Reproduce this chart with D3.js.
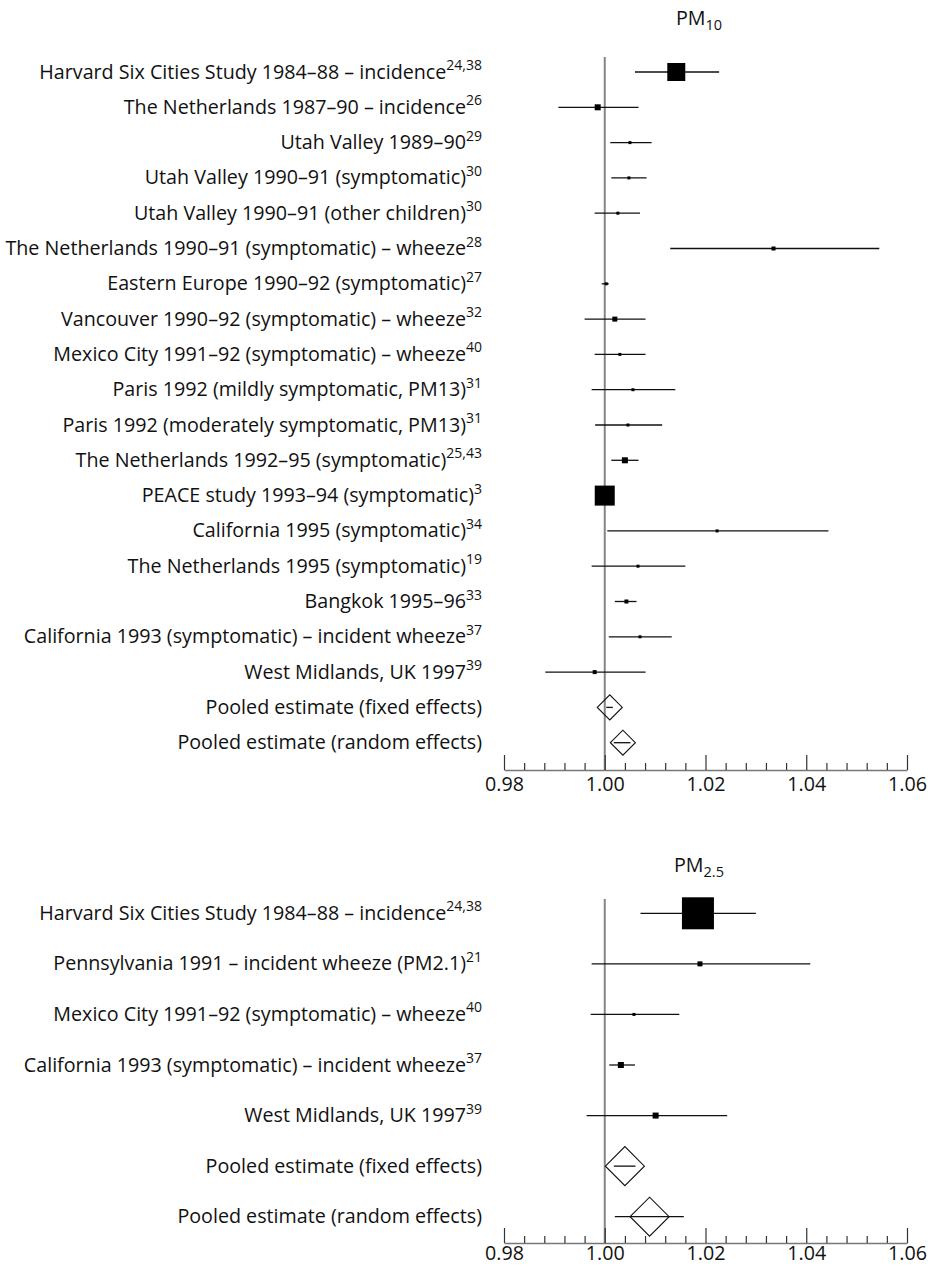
<!DOCTYPE html>
<meta charset="utf-8">
<title>PM10 / PM2.5 forest plot</title>
<style>
body { margin: 0; background: #fff; }
svg { display: block; }
.lab { font: 19.7px "Open Sans", sans-serif; fill: #111; }
.axis text { font: 19.7px "Open Sans", sans-serif; fill: #111; }
</style>
<svg></svg>
<script src="https://d3js.org/d3.v7.min.js"></script>
<script>
var width = 928, height = 1268;

// ---- PM10 studies
var pm10Labels = [
  "Harvard Six Cities Study 1984\u201388 \u2013 incidence",
  "The Netherlands 1987\u201390 \u2013 incidence",
  "Utah Valley 1989\u201390",
  "Utah Valley 1990\u201391 (symptomatic)",
  "Utah Valley 1990\u201391 (other children)",
  "The Netherlands 1990\u201391 (symptomatic) \u2013 wheeze",
  "Eastern Europe 1990\u201392 (symptomatic)",
  "Vancouver 1990\u201392 (symptomatic) \u2013 wheeze",
  "Mexico City 1991\u201392 (symptomatic) \u2013 wheeze",
  "Paris 1992 (mildly symptomatic, PM13)",
  "Paris 1992 (moderately symptomatic, PM13)",
  "The Netherlands 1992\u201395 (symptomatic)",
  "PEACE study 1993\u201394 (symptomatic)",
  "California 1995 (symptomatic)",
  "The Netherlands 1995 (symptomatic)",
  "Bangkok 1995\u201396",
  "California 1993 (symptomatic) \u2013 incident wheeze",
  "West Midlands, UK 1997"
];
var pm10Refs = ["24,38", "26", "29", "30", "30", "28", "27", "32", "40", "31", "31", "25,43", "3", "34", "19", "33", "37", "39"];
var pm10Est = [1.0142, 0.9986, 1.0050, 1.0048, 1.0026, 1.0335, 1.0003, 1.0020, 1.0030, 1.0056, 1.0046, 1.0040, 1.0000, 1.0223, 1.0066, 1.0043, 1.0070, 0.9980];
var pm10Lo  = [1.0060, 0.9908, 1.0011, 1.0013, 0.9980, 1.0130, 0.9994, 0.9960, 0.9980, 0.9974, 0.9981, 1.0013, 0.9985, 1.0005, 0.9974, 1.0020, 1.0008, 0.9882];
var pm10Hi  = [1.0227, 1.0067, 1.0093, 1.0083, 1.0070, 1.0545, 1.0008, 1.0081, 1.0081, 1.0140, 1.0114, 1.0067, 1.0015, 1.0444, 1.0160, 1.0063, 1.0133, 1.0081];
var pm10Weight = [81, 9, 2.25, 2.25, 2.25, 4, 2.25, 6.25, 2.25, 2.25, 2.25, 9, 100, 2.25, 2.25, 4, 2.25, 4];

// ---- PM2.5 studies
var pm25Labels = [
  "Harvard Six Cities Study 1984\u201388 \u2013 incidence",
  "Pennsylvania 1991 \u2013 incident wheeze (PM2.1)",
  "Mexico City 1991\u201392 (symptomatic) \u2013 wheeze",
  "California 1993 (symptomatic) \u2013 incident wheeze",
  "West Midlands, UK 1997"
];
var pm25Refs = ["24,38", "21", "40", "37", "39"];
var pm25Est = [1.0185, 1.0189, 1.0058, 1.0032, 1.0101];
var pm25Lo  = [1.0071, 0.9974, 0.9972, 1.0009, 0.9964];
var pm25Hi  = [1.0300, 1.0408, 1.0148, 1.0060, 1.0243];
var pm25Weight = [256, 6.25, 2.25, 9, 9];

// ---- pooled estimates
var pooledLabels = ["Pooled estimate (fixed effects)", "Pooled estimate (random effects)"];
var pm10PoolEst = [1.0010, 1.0036];
var pm10PoolLo  = [1.0003, 1.0018];
var pm10PoolHi  = [1.0016, 1.0051];
var pm25PoolEst = [1.0040, 1.0089];
var pm25PoolLo  = [1.0018, 1.0020];
var pm25PoolHi  = [1.0061, 1.0157];

// ---- axis
var xDomain = [0.98, 1.06];
var majorTicks = [0.98, 1.00, 1.02, 1.04, 1.06];
var minorTicks = d3.range(0, 21).filter(i => i % 5 != 0).map(i => 0.98 + i * 0.004);

var svg = d3.select("svg").attr("width", width).attr("height", height);

var x = d3.scaleLinear().domain(xDomain).range([504, 907]);
var box = d3.scaleSqrt().domain([0, 100]).range([0, 20]);
var labelX = 482;

function panel(o) {
  var rows = o.labels.map((l, i) => ({label: l, ref: o.refs[i], est: o.est[i], lo: o.lo[i], hi: o.hi[i], w: o.weight[i], pooled: false}))
    .concat(pooledLabels.map((l, i) => ({label: l, ref: null, est: o.poolEst[i], lo: o.poolLo[i], hi: o.poolHi[i], pooled: true})));

  var y = d3.scalePoint().domain(d3.range(rows.length)).range([o.y0, o.y1]);

  var g = svg.append("g");

  // title
  var t = g.append("text").attr("class", "lab")
    .attr("x", 699).attr("y", o.titleY)
    .attr("text-anchor", "middle");
  t.append("tspan").text("PM");
  t.append("tspan").attr("dy", 5).attr("font-size", 14.5).text(o.sub);

  // reference line at 1
  g.append("line")
    .attr("x1", x(1)).attr("x2", x(1))
    .attr("y1", o.lineTop).attr("y2", o.axisY)
    .attr("stroke", "#858585").attr("stroke-width", 2);

  // axis
  var ax = g.append("g").attr("class", "axis")
    .attr("transform", "translate(0," + o.axisY + ")")
    .call(d3.axisBottom(x).tickValues(majorTicks).tickFormat(d3.format(".2f"))
      .tickSizeInner(-15).tickSizeOuter(0));
  ax.select(".domain").attr("stroke", "#777").attr("stroke-width", 1.5);
  ax.selectAll(".tick line").attr("stroke", "#333").attr("stroke-width", 1.2);
  ax.selectAll(".tick text").attr("y", o.tickPad).attr("dy", "0.71em");

  var mn = g.append("g")
    .attr("transform", "translate(0," + o.axisY + ")")
    .call(d3.axisBottom(x).tickValues(minorTicks).tickFormat("").tickSizeInner(-7).tickSizeOuter(0));
  mn.select(".domain").remove();
  mn.selectAll(".tick line").attr("stroke", "#333").attr("stroke-width", 1.2);

  // labels
  var lab = g.selectAll(".rowlab").data(rows).join("text")
    .attr("class", "lab")
    .attr("x", labelX)
    .attr("y", (d, i) => y(i) + 6.5)
    .attr("text-anchor", "end");
  lab.append("tspan").text(d => d.label);
  lab.filter(d => d.ref).append("tspan")
    .attr("dy", -8.5).attr("font-size", 14).text(d => d.ref);

  // confidence intervals
  g.selectAll(".ci").data(rows).join("line")
    .attr("x1", d => x(d.lo)).attr("x2", d => x(d.hi))
    .attr("y1", (d, i) => y(i)).attr("y2", (d, i) => y(i))
    .attr("stroke", "#111").attr("stroke-width", 1.3);

  // study boxes
  g.selectAll(".box").data(rows.filter(d => !d.pooled)).join("rect")
    .attr("x", d => x(d.est) - box(d.w) / 2)
    .attr("y", d => y(rows.indexOf(d)) - box(d.w) / 2)
    .attr("width", d => box(d.w))
    .attr("height", d => box(d.w))
    .attr("fill", "#000");

  // pooled diamonds
  var h = o.diamond / 2;
  g.selectAll(".dia").data(rows.filter(d => d.pooled)).join("path")
    .attr("d", d => {
      var cx = x(d.est), cy = y(rows.indexOf(d));
      return "M" + (cx - h) + "," + cy + "L" + cx + "," + (cy - h) + "L" + (cx + h) + "," + cy + "L" + cx + "," + (cy + h) + "Z";
    })
    .attr("fill", "none").attr("stroke", "#111").attr("stroke-width", 1.1);
}

panel({labels: pm10Labels, refs: pm10Refs, est: pm10Est, lo: pm10Lo, hi: pm10Hi, weight: pm10Weight,
  poolEst: pm10PoolEst, poolLo: pm10PoolLo, poolHi: pm10PoolHi,
  sub: "10", titleY: 25, y0: 72, y1: 742.7, lineTop: 57, axisY: 770, diamond: 25, tickPad: 7});

panel({labels: pm25Labels, refs: pm25Refs, est: pm25Est, lo: pm25Lo, hi: pm25Hi, weight: pm25Weight,
  poolEst: pm25PoolEst, poolLo: pm25PoolLo, poolHi: pm25PoolHi,
  sub: "2.5", titleY: 872, y0: 913.3, y1: 1216.7, lineTop: 899, axisY: 1243, diamond: 39, tickPad: 3});
</script>
